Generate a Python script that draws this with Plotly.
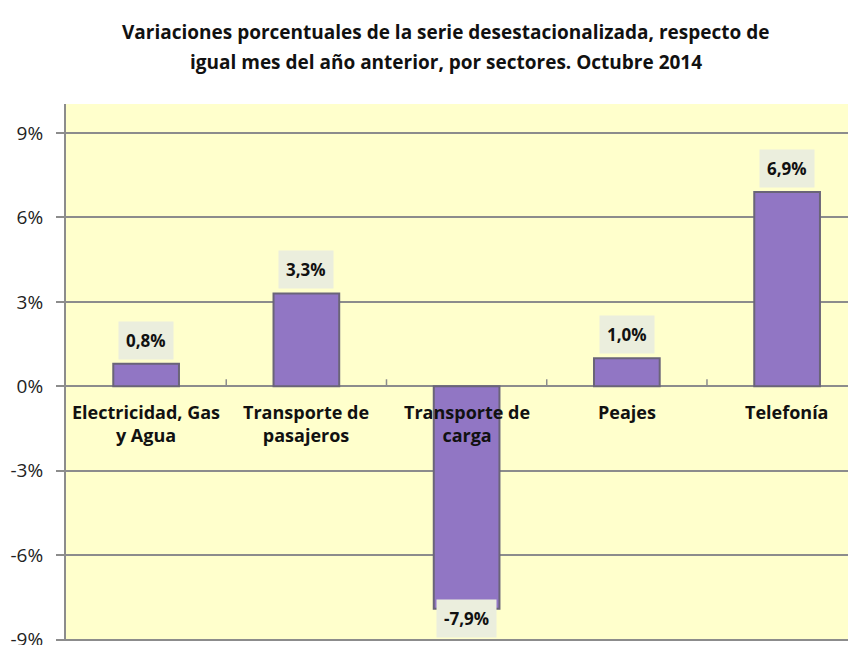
import plotly.graph_objects as go

# data
sectores = ["Electricidad, Gas<br>y Agua", "Transporte de<br>pasajeros", "Transporte de<br>carga", "Peajes", "Telefonía"]
variacion = [0.8, 3.3, -7.9, 1.0, 6.9]
etiquetas = ["0,8%", "3,3%", "-7,9%", "1,0%", "6,9%"]
ticks_y = [-9, -6, -3, 0, 3, 6, 9]
ticks_y_txt = ["-9%", "-6%", "-3%", "0%", "3%", "6%", "9%"]

titulo = ["Variaciones porcentuales de la serie desestacionalizada, respecto de",
          "igual mes del año anterior, por sectores. Octubre 2014"]

FONT = "Open Sans"
idx = list(range(len(sectores)))

fig = go.Figure()
fig.add_trace(go.Bar(
    x=idx, y=variacion, width=0.41,
    marker=dict(color="#9176C4", line=dict(color="#6A6478", width=2)),
    showlegend=False, hoverinfo="skip",
))

# data labels in boxes
for i, (v, t) in enumerate(zip(variacion, etiquetas)):
    fig.add_annotation(
        x=i, y=v, text="<b>" + t + "</b>", showarrow=False,
        yanchor="bottom" if v >= 0 else "top",
        yshift=4 if v >= 0 else 10,
        bgcolor="#EBEEDD", borderpad=7,
        font=dict(family=FONT, size=17, color="#111111"),
    )

# category labels sitting on the zero line
for i, s in enumerate(sectores):
    fig.add_annotation(
        x=i, y=0, text="<b>" + s + "</b>", showarrow=False,
        yanchor="top", yshift=-12,
        font=dict(family=FONT, size=18, color="#111111"),
    )

# small tick marks on the zero line between categories
for i in idx[:-1]:
    fig.add_shape(type="line", xref="x", yref="y", x0=i + 0.5, x1=i + 0.5,
                  y0=0, y1=0.25, line=dict(color="#8C8C8C", width=1.5))

# two title lines
for k, (linea, ypos) in enumerate(zip(titulo, [1.134, 1.078])):
    fig.add_annotation(
        xref="paper", yref="paper", x=0.481, y=ypos, text="<b>" + linea + "</b>",
        showarrow=False, xanchor="center", yanchor="middle",
        font=dict(family=FONT, size=19, color="#111111"),
    )

fig.update_layout(
    width=848, height=637,
    margin=dict(l=58, r=0, t=96, b=4),
    paper_bgcolor="white", plot_bgcolor="#FFFFCC",
    xaxis=dict(range=[-0.5, 4.43], showticklabels=False, showgrid=False,
               zeroline=False, showline=False),
    yaxis=dict(range=[-9.05, 10.03], tickvals=ticks_y, ticktext=ticks_y_txt,
               showgrid=True, gridcolor="#8C8C8C", gridwidth=1.5,
               zeroline=True, zerolinecolor="#8C8C8C", zerolinewidth=1.5,
               showline=True, linecolor="#8C8C8C", linewidth=2,
               ticks="outside", ticklen=8, tickcolor="#8C8C8C", tickwidth=1.5,
               ticklabelstandoff=9, ticklabeloverflow="allow", automargin=False,
               tickfont=dict(family=FONT, size=19, color="#222222")),
)

fig.write_html("out.html")
